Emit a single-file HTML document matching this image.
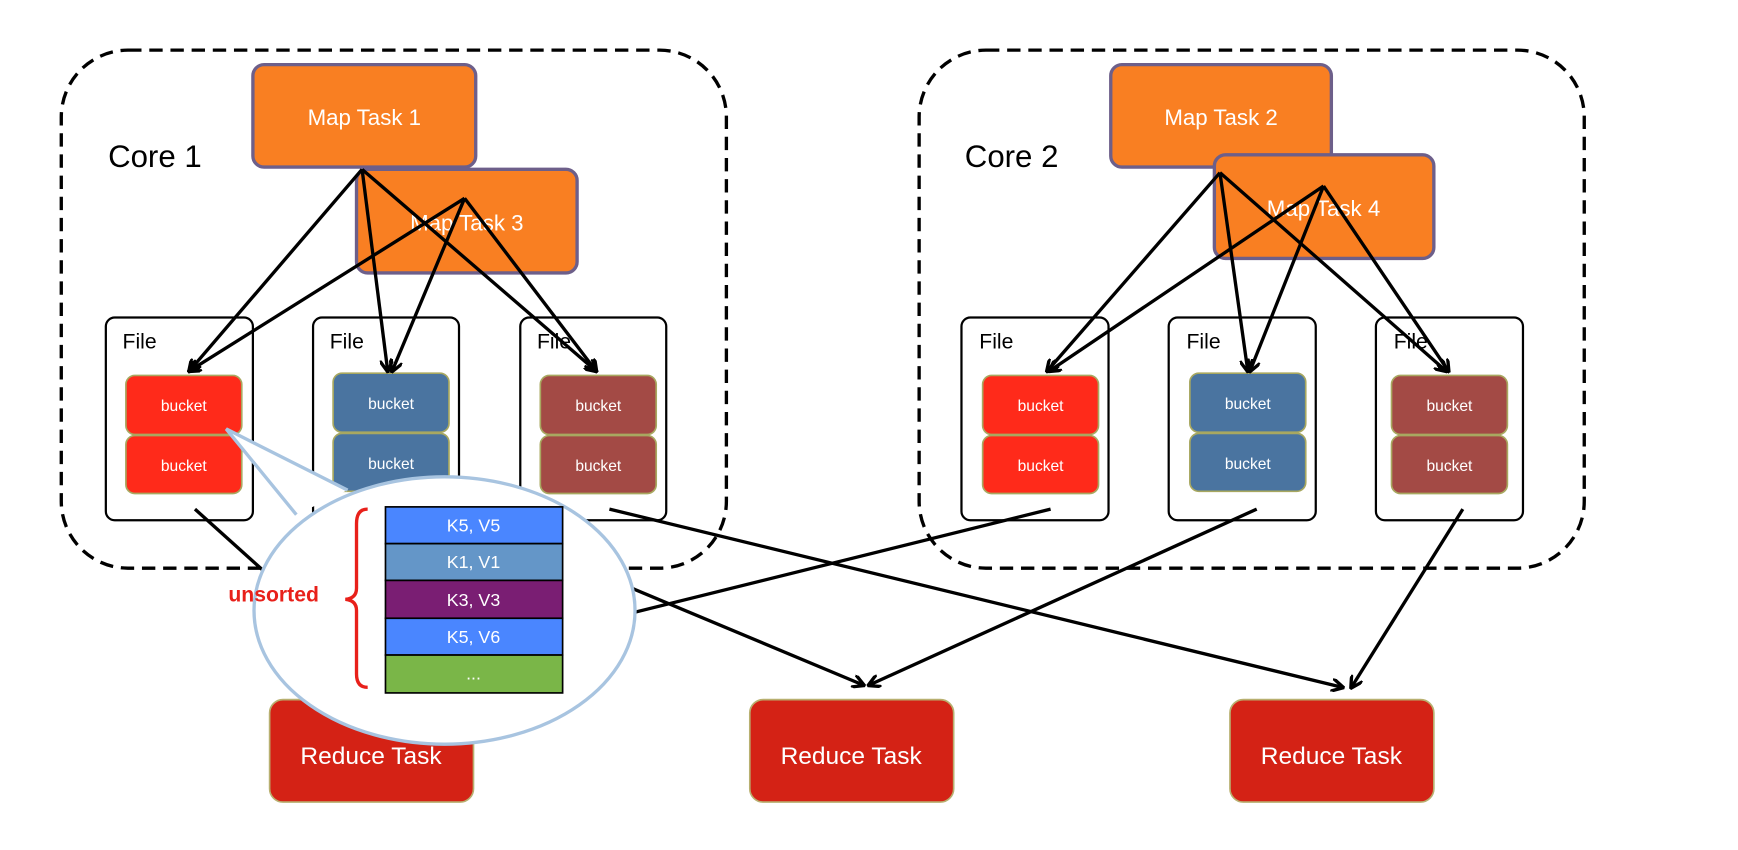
<!DOCTYPE html>
<html><head><style>html,body{margin:0;padding:0;background:#fff}svg{display:block}</style></head><body>
<svg width="1738" height="850" viewBox="0 0 1560 763" preserveAspectRatio="none" xmlns="http://www.w3.org/2000/svg" font-family="Liberation Sans, sans-serif">
<defs><marker id="a" markerWidth="12" markerHeight="12" refX="10" refY="6" orient="auto" markerUnits="userSpaceOnUse"><path d="M0,0 L11,6 L0,12" fill="none" stroke="#000" stroke-width="3"/></marker></defs>
<rect x="55" y="45" width="597" height="465" rx="60" fill="none" stroke="#000" stroke-width="3" stroke-dasharray="12,7"/>
<rect x="825" y="45" width="597" height="465" rx="60" fill="none" stroke="#000" stroke-width="3" stroke-dasharray="12,7"/>
<text x="97" y="150" font-size="28">Core 1</text>
<text x="866" y="150" font-size="28">Core 2</text>
<g stroke="#6d5f8a" stroke-width="3" fill="#f97f22">
<rect x="227" y="58" width="200" height="92" rx="10"/>
<rect x="320" y="152" width="198" height="93" rx="10"/>
<rect x="997" y="58" width="198" height="92" rx="10"/>
<rect x="1090" y="139" width="197" height="93" rx="10"/>
</g>
<g fill="#fff" font-size="20" text-anchor="middle">
<text x="327" y="112">Map Task 1</text><text x="419" y="207">Map Task 3</text>
<text x="1096" y="112">Map Task 2</text><text x="1188" y="194">Map Task 4</text>
</g>
<g fill="#fff" stroke="#000" stroke-width="2">
<rect x="95" y="285" width="132" height="182" rx="8"/><rect x="281" y="285" width="131" height="182" rx="8"/><rect x="467" y="285" width="131" height="182" rx="8"/>
<rect x="863" y="285" width="132" height="182" rx="8"/><rect x="1049" y="285" width="132" height="182" rx="8"/><rect x="1235" y="285" width="132" height="182" rx="8"/>
</g>
<g font-size="19"><text x="110" y="313">File</text><text x="296" y="313">File</text><text x="482" y="313">File</text><text x="879" y="313">File</text><text x="1065" y="313">File</text><text x="1251" y="313">File</text></g>
<g stroke="#a8a860" stroke-width="1.5">
<rect x="113" y="337" width="104" height="53" rx="8" fill="#ff2a1a"/><rect x="113" y="391" width="104" height="52" rx="8" fill="#ff2a1a"/>
<rect x="299" y="335" width="104" height="53" rx="8" fill="#4a74a0"/><rect x="299" y="389" width="104" height="52" rx="8" fill="#4a74a0"/>
<rect x="485" y="337" width="104" height="53" rx="8" fill="#a34a45"/><rect x="485" y="391" width="104" height="52" rx="8" fill="#a34a45"/>
<rect x="882" y="337" width="104" height="53" rx="8" fill="#ff2a1a"/><rect x="882" y="391" width="104" height="52" rx="8" fill="#ff2a1a"/>
<rect x="1068" y="335" width="104" height="53" rx="8" fill="#4a74a0"/><rect x="1068" y="389" width="104" height="52" rx="8" fill="#4a74a0"/>
<rect x="1249" y="337" width="104" height="53" rx="8" fill="#a34a45"/><rect x="1249" y="391" width="104" height="52" rx="8" fill="#a34a45"/>
</g>
<g fill="#fff" font-size="14" text-anchor="middle">
<text x="165" y="369">bucket</text><text x="165" y="423">bucket</text>
<text x="351" y="367">bucket</text><text x="351" y="421">bucket</text>
<text x="537" y="369">bucket</text><text x="537" y="423">bucket</text>
<text x="934" y="369">bucket</text><text x="934" y="423">bucket</text>
<text x="1120" y="367">bucket</text><text x="1120" y="421">bucket</text>
<text x="1301" y="369">bucket</text><text x="1301" y="423">bucket</text>
</g>
<g stroke="#000" stroke-width="3" fill="none" marker-end="url(#a)">
<line x1="325" y1="152" x2="170" y2="333"/><line x1="325" y1="152" x2="348" y2="333"/><line x1="325" y1="152" x2="535" y2="333"/>
<line x1="417" y1="178" x2="170" y2="333"/><line x1="417" y1="178" x2="352" y2="333"/><line x1="417" y1="178" x2="535" y2="333"/>
<line x1="1095" y1="155" x2="940" y2="333"/><line x1="1095" y1="155" x2="1120" y2="333"/><line x1="1095" y1="155" x2="1298" y2="333"/>
<line x1="1188" y1="167" x2="942" y2="333"/><line x1="1188" y1="167" x2="1122" y2="333"/><line x1="1188" y1="167" x2="1300" y2="333"/>
<line x1="547" y1="457" x2="1205" y2="617"/><line x1="943" y1="457" x2="560" y2="552" marker-end="none"/>
<line x1="1128" y1="457" x2="780" y2="615"/><line x1="1313" y1="457" x2="1213" y2="617"/><line x1="560" y1="525" x2="775" y2="615"/>
<line x1="175" y1="457" x2="245" y2="520" marker-end="none"/>
</g>
<g fill="#d42215" stroke="#b8b070" stroke-width="1.5">
<rect x="242" y="628" width="183" height="92" rx="12"/><rect x="673" y="628" width="183" height="92" rx="12"/><rect x="1104" y="628" width="183" height="92" rx="12"/>
</g>
<g fill="#fff" font-size="22" text-anchor="middle"><text x="333" y="686">Reduce Task</text><text x="764" y="686">Reduce Task</text><text x="1195" y="686">Reduce Task</text></g>
<ellipse cx="399" cy="548" rx="171" ry="120" fill="#fff" stroke="#a8c4e0" stroke-width="3"/>
<path d="M203,385 L266,462 L312,440 Z" fill="#fff" stroke="none"/>
<path d="M266,462 L203,385 L312,440" stroke="#a8c4e0" stroke-width="3" fill="none"/>
<g stroke="#000" stroke-width="1.5">
<rect x="346" y="455" width="159" height="33" fill="#4a86ff"/><rect x="346" y="488" width="159" height="33" fill="#6496c8"/>
<rect x="346" y="521" width="159" height="34" fill="#7a1e73"/><rect x="346" y="555" width="159" height="33" fill="#4a86ff"/>
<rect x="346" y="588" width="159" height="34" fill="#7ab648"/>
</g>
<g fill="#fff" font-size="16" text-anchor="middle"><text x="425" y="477">K5, V5</text><text x="425" y="510">K1, V1</text><text x="425" y="544">K3, V3</text><text x="425" y="577">K5, V6</text><text x="425" y="610">...</text></g>
<path d="M330,457 Q320,457 320,470 L320,528 Q320,537 310,538 Q320,539 320,548 L320,605 Q320,617 330,617" fill="none" stroke="#e8201a" stroke-width="3"/>
<text x="205" y="540" font-size="19" font-weight="bold" fill="#e8201a">unsorted</text>
</svg>
</body></html>
